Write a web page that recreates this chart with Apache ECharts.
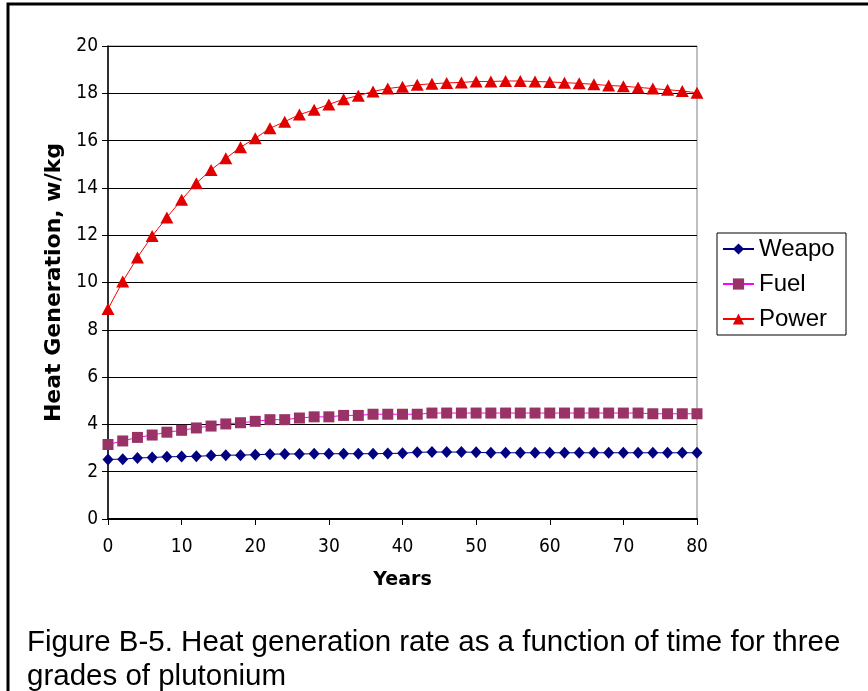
<!DOCTYPE html>
<html><head><meta charset="utf-8">
<script src="https://cdn.jsdelivr.net/npm/echarts@6/dist/echarts.min.js"></script>
<style>html,body{margin:0;padding:0;background:#fff}#c{width:868px;height:691px}</style>
</head><body><div id="c"></div>
<script>
const years = [];
for (let y = 0; y <= 80; y += 2) years.push(y);
const weapon = [2.52,2.53,2.58,2.6,2.63,2.64,2.65,2.68,2.7,2.7,2.72,2.74,2.75,2.75,2.76,2.76,2.76,2.76,2.76,2.77,2.78,2.82,2.83,2.83,2.83,2.82,2.8,2.8,2.8,2.8,2.8,2.8,2.8,2.8,2.8,2.8,2.8,2.8,2.8,2.8,2.8];
const fuel = [3.15,3.3,3.45,3.55,3.67,3.75,3.85,3.93,4.02,4.07,4.13,4.2,4.2,4.27,4.32,4.32,4.38,4.38,4.43,4.43,4.43,4.43,4.48,4.48,4.48,4.48,4.48,4.48,4.48,4.48,4.48,4.48,4.48,4.48,4.48,4.48,4.48,4.45,4.45,4.45,4.45];
const power = [8.88,10.04,11.06,11.97,12.75,13.5,14.2,14.76,15.25,15.72,16.1,16.52,16.8,17.1,17.3,17.53,17.75,17.9,18.08,18.2,18.28,18.36,18.4,18.44,18.46,18.5,18.5,18.52,18.52,18.5,18.48,18.45,18.42,18.38,18.33,18.3,18.25,18.2,18.15,18.1,18.02];
const seriesNames = ['Weapon','Fuel','Power'];
const caption = 'Figure B-5. Heat generation rate as a function of time for three\ngrades of plutonium';
const xTitle = 'Years';
const yTitle = 'Heat Generation, w/kg';

const pairs = arr => years.map((y, i) => [y, arr[i]]);
const tickFont = {color:'#000', fontSize:19, fontFamily:'DejaVu Sans Condensed, DejaVu Sans'};
const chart = echarts.init(document.getElementById('c'));
chart.setOption({
  animation:false,
  backgroundColor:'#fff',
  title:{text:caption, left:27, top:626, padding:0, textStyle:{fontSize:29.5, fontWeight:'normal', fontFamily:'Liberation Sans, Arial', color:'#000', lineHeight:34}},
  graphic:[{type:'rect', shape:{x:8,y:4,width:900,height:800}, style:{stroke:'#000', lineWidth:3, fill:'none'}, silent:true, z:-1}],
  grid:{left:108, right:171, top:46, bottom:172, show:true, borderColor:'#808080', borderWidth:1, containLabel:false},
  legend:{orient:'vertical', left:717, top:233, padding:[4,0,4,5], itemGap:11, itemWidth:31, itemHeight:14,
    borderColor:'#000', borderWidth:1, backgroundColor:'#fff',
    textStyle:{fontSize:24, fontFamily:'Liberation Sans, Arial', color:'#000', lineHeight:22, width:87, overflow:'truncate', ellipsis:''},
    data:seriesNames},
  xAxis:{type:'value', min:0, max:80, interval:10, name:xTitle, nameLocation:'middle', nameGap:52,
    nameTextStyle:{fontSize:19, fontWeight:'bold', fontFamily:'DejaVu Sans', color:'#000'},
    axisLine:{lineStyle:{color:'#000', width:2}}, axisTick:{length:6, lineStyle:{color:'#000'}},
    axisLabel:Object.assign({margin:19}, tickFont), splitLine:{show:false}},
  yAxis:{type:'value', min:0, max:20, interval:2, name:yTitle, nameLocation:'middle', nameGap:30,
    nameTextStyle:{fontSize:22, fontWeight:'bold', fontFamily:'DejaVu Sans', color:'#000'},
    axisLine:{show:true, lineStyle:{color:'#000', width:1.5}}, axisTick:{show:true, length:6, lineStyle:{color:'#000'}},
    axisLabel:Object.assign({margin:10}, tickFont), splitLine:{lineStyle:{color:'#000', width:1.2}}},
  series:[
    {name:seriesNames[0], type:'line', data:pairs(weapon), symbol:'diamond', symbolSize:[11,12], showAllSymbol:true,
      itemStyle:{color:'#000080'}, lineStyle:{color:'#000080', width:1}},
    {name:seriesNames[1], type:'line', data:pairs(fuel), symbol:'rect', symbolSize:11, showAllSymbol:true,
      itemStyle:{color:'#993366'}, lineStyle:{color:'#ff00ff', width:1}},
    {name:seriesNames[2], type:'line', data:pairs(power), symbol:'triangle', symbolSize:[13,12], showAllSymbol:true,
      itemStyle:{color:'#e00000'}, lineStyle:{color:'#ff0000', width:1}}
  ]
});
</script></body></html>
